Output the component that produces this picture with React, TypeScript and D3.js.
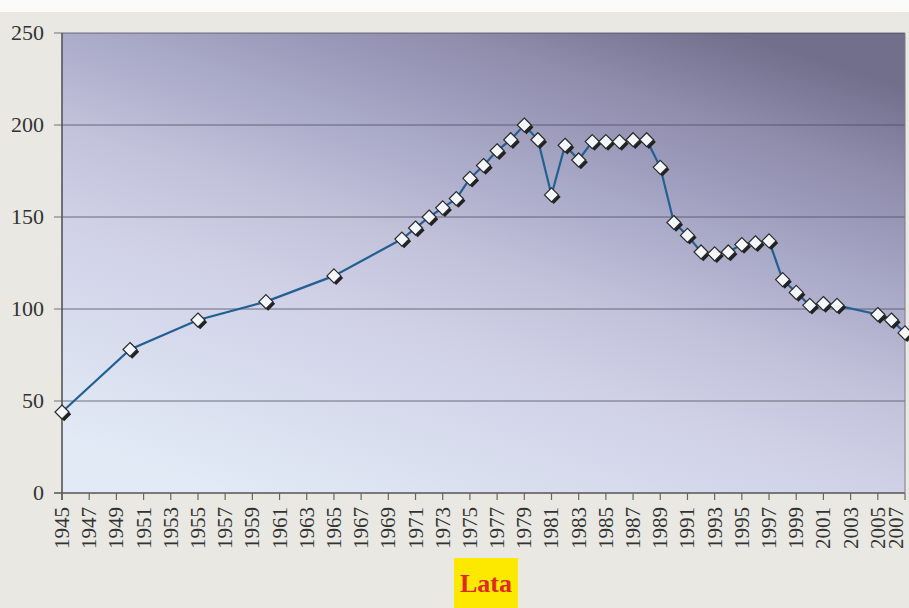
import React from "react";
import * as d3 from "d3";

const years = [
  1945, 1950, 1955, 1960, 1965, 1970, 1971, 1972, 1973, 1974, 1975, 1976, 1977,
  1978, 1979, 1980, 1981, 1982, 1983, 1984, 1985, 1986, 1987, 1988, 1989, 1990,
  1991, 1992, 1993, 1994, 1995, 1996, 1997, 1998, 1999, 2000, 2001, 2002, 2005,
  2006, 2007,
];
const values = [
  44, 78, 94, 104, 118, 138, 144, 150, 155, 160, 171, 178, 186, 192, 200, 192,
  162, 189, 181, 191, 191, 191, 192, 192, 177, 147, 140, 131, 130, 131, 135, 136,
  137, 116, 109, 102, 103, 102, 97, 94, 87,
];
const yTicks = [0, 50, 100, 150, 200, 250];
const xTicks = d3.range(1945, 2008, 2);
const axisTitle = "Lata";

const W = 909;
const H = 608;
const left = 62;
const right = 905;
const top = 33;
const bottom = 493;
const font = "Liberation Serif, Tinos, Times New Roman, Times, serif";

export default function App() {
  const x = d3.scaleLinear().domain([1945, 2007]).range([left, right]);
  const y = d3.scaleLinear().domain([0, 250]).range([bottom, top]);
  const pts = years.map((yr, i) => [x(yr), y(values[i])] as [number, number]);
  const line = d3.line()(pts) || "";
  const r = 7;
  const diamond = (cx: number, cy: number) =>
    `M${cx},${cy - r}L${cx + r},${cy}L${cx},${cy + r}L${cx - r},${cy}Z`;

  return (
    <svg
      width={W}
      height={H}
      style={{ position: "absolute", left: 0, top: 0, fontFamily: font }}
    >
      <defs>
        <linearGradient id="plotBg" x1="0.2" y1="1" x2="0.8" y2="0">
          <stop offset="0" stopColor="#e1eaf5" />
          <stop offset="0.35" stopColor="#d0d1e7" />
          <stop offset="0.5" stopColor="#c2c2db" />
          <stop offset="0.65" stopColor="#ababca" />
          <stop offset="0.85" stopColor="#8f8cac" />
          <stop offset="1" stopColor="#726f8d" />
        </linearGradient>
        <clipPath id="frame">
          <rect x={0} y={0} width={W} height={H} />
        </clipPath>
      </defs>
      <rect x={0} y={0} width={W} height={H} fill="#e9e8e3" />
      <rect x={0} y={0} width={W} height={12} fill="#fbfbfa" />
      <rect
        x={left}
        y={top}
        width={right - left}
        height={bottom - top}
        fill="url(#plotBg)"
      />
      {/* gridlines */}
      {yTicks.map((t) => (
        <line
          key={t}
          x1={left - 8}
          x2={right}
          y1={y(t)}
          y2={y(t)}
          stroke={t === 0 ? "#555" : "#4a4a5a"}
          strokeWidth={t === 0 ? 1.6 : 1}
          strokeOpacity={t === 0 ? 1 : 0.75}
        />
      ))}
      <line x1={right} x2={right} y1={top} y2={bottom} stroke="#7a7a88" strokeWidth={1} />
      {/* axes */}
      <line x1={left} x2={left} y1={top} y2={bottom + 7} stroke="#555" strokeWidth={1.6} />
      {xTicks.map((t) => (
        <line
          key={t}
          x1={x(t)}
          x2={x(t)}
          y1={bottom}
          y2={bottom + 7}
          stroke="#666"
          strokeWidth={1.2}
        />
      ))}
      {yTicks.map((t) => (
        <text
          key={t}
          x={44}
          y={y(t) + 7}
          textAnchor="end"
          fontSize={22}
          fill="#333"
        >
          {t}
        </text>
      ))}
      {xTicks.map((t) => (
        <text
          key={t}
          transform={`translate(${Math.min(x(t) + 7, 903)},${507}) rotate(-90)`}
          textAnchor="end"
          fontSize={21}
          fill="#333"
        >
          {t}
        </text>
      ))}
      {/* series */}
      <g clipPath="url(#frame)">
        <path d={line} fill="none" stroke="#235f92" strokeWidth={2.2} />
        {pts.map(([cx, cy], i) => (
          <g key={years[i]}>
            <path d={diamond(cx + 2.2, cy + 2.2)} fill="#222" />
            <path
              d={diamond(cx, cy)}
              fill="#f4f7f9"
              stroke="#2a2a2a"
              strokeWidth={1.2}
            />
          </g>
        ))}
      </g>
      {/* axis title */}
      <rect x={454} y={558} width={64} height={50} fill="#fde800" />
      <text
        x={486}
        y={592}
        textAnchor="middle"
        fontSize={26}
        fontWeight="bold"
        fill="#dd2a22"
      >
        {axisTitle}
      </text>
    </svg>
  );
}
